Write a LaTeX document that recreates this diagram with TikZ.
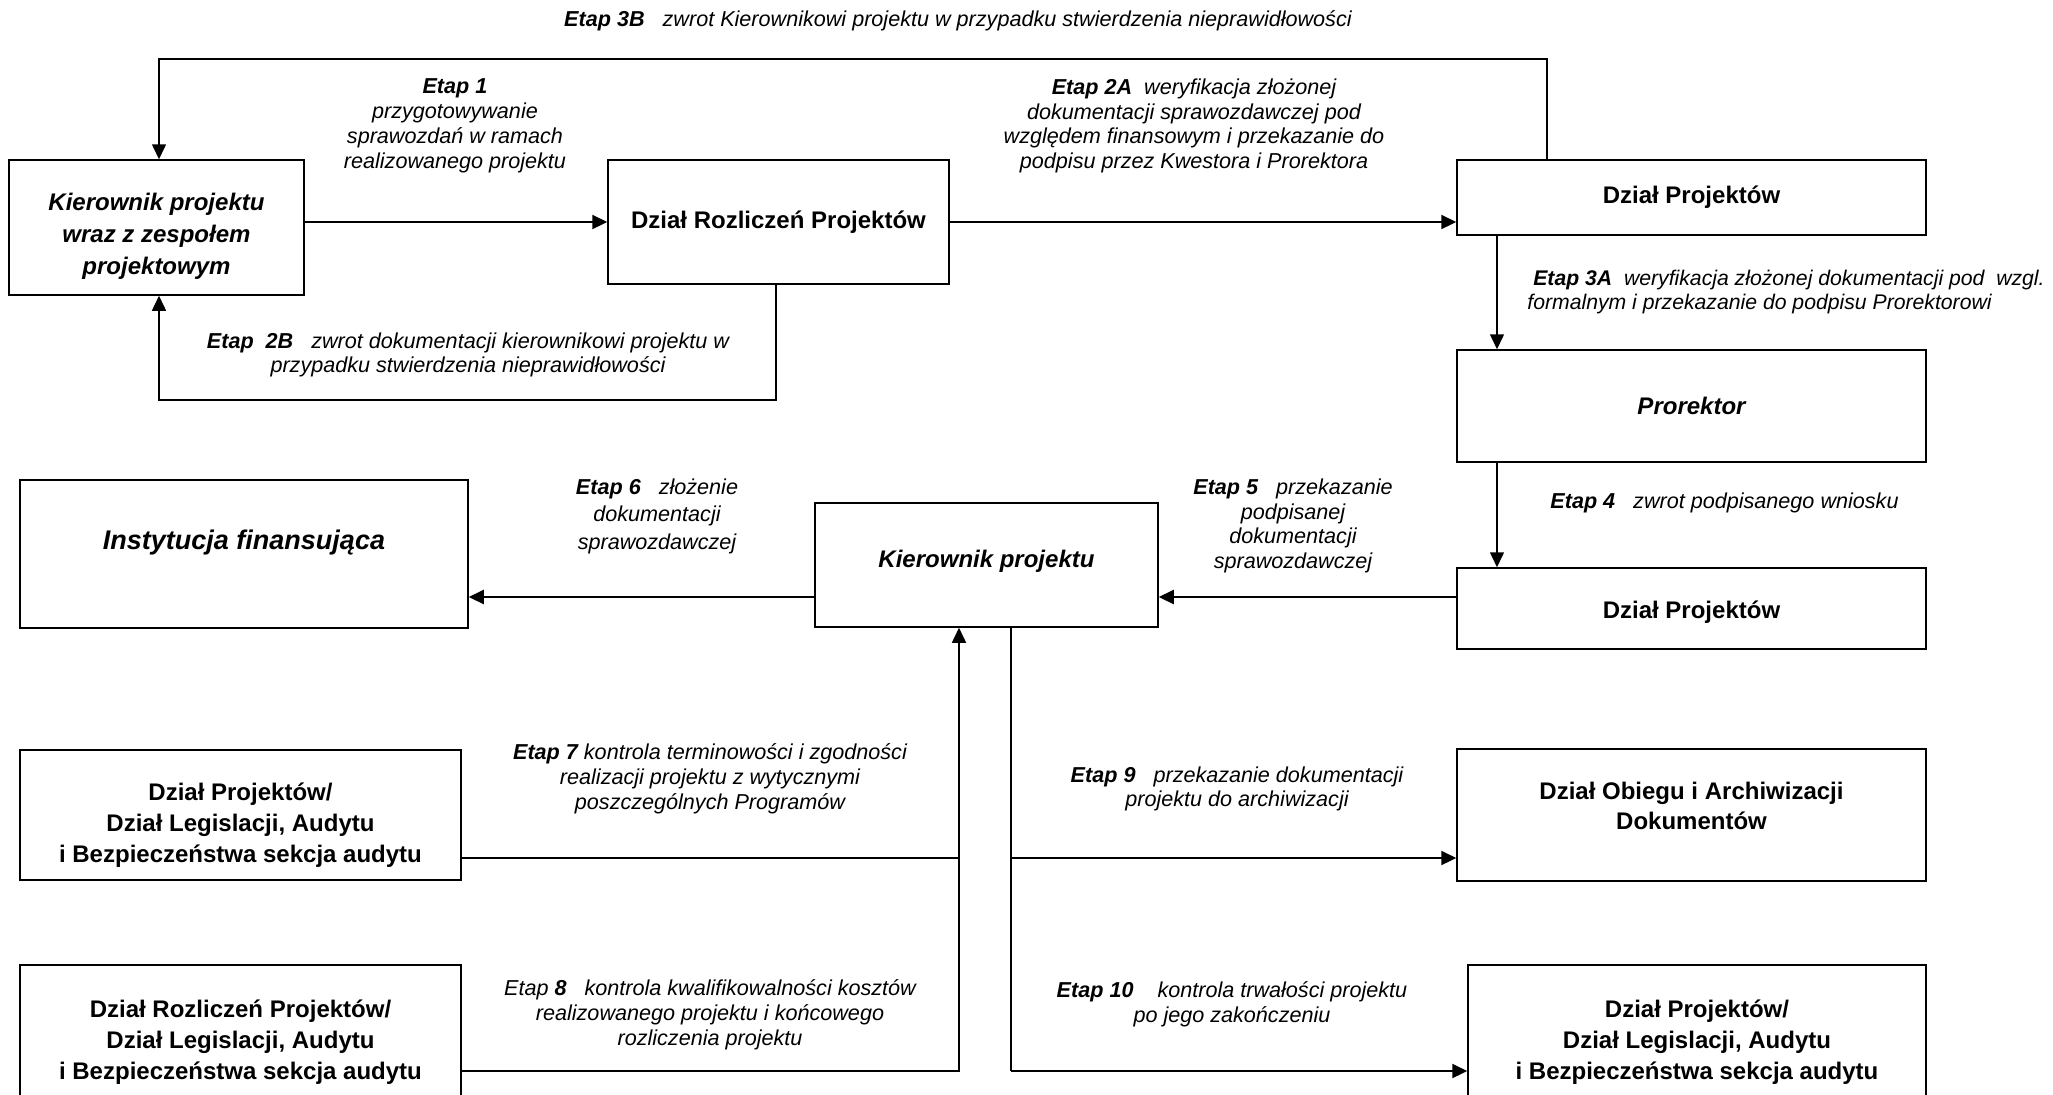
\documentclass[tikz,border=0pt]{standalone}
\usepackage{fontspec}
\setmainfont{Liberation Sans}
\usetikzlibrary{arrows.meta}

% invisible strut that lowers the text block inside a fixed-size box
\newcommand{\lowerby}[1]{\rule{0pt}{#1}}

\tikzset{
  box/.style={draw=black, line width=0.75pt, rectangle, align=center, inner sep=2pt,
    font=\fontsize{12}{15}\selectfont\bfseries},
  boxit/.style={box, font=\fontsize{12}{15}\selectfont\bfseries\itshape},
  etap/.style={align=center, inner sep=0pt, font=\fontsize{10.8}{12.4}\selectfont\itshape},
  flow/.style={line width=1.1pt, -{Triangle[length=7.5pt,width=7pt]}},
  link/.style={line width=0.75pt},
  linkarrow/.style={line width=0.75pt, -{Triangle[length=7.5pt,width=7pt]}},
}

\begin{document}
\begin{tikzpicture}[x=0.5pt, y=-0.5pt]
\useasboundingbox (0,0) rectangle (2053,1094);
\clip (0,0) rectangle (2053,1094);
\fill[white] (0,0) rectangle (2053,1094);

% --- boxes ---
\node[boxit, minimum width=147.5pt, minimum height=67.5pt, font=\fontsize{12}{15.8}\selectfont\bfseries\itshape]
  (k1) at (156.5,227.5) {\lowerby{17.5pt}Kierownik projektu\\wraz z zespołem\\projektowym};
\node[box, minimum width=170.5pt, minimum height=62pt] (drp) at (778.5,222) {Dział Rozliczeń Projektów};
\node[box, minimum width=234.5pt, minimum height=37.5pt] (dp1) at (1691.5,197.5) {Dział Projektów};
\node[boxit, minimum width=234.5pt, minimum height=56pt] (pror) at (1691.5,406) {Prorektor};
\node[box, minimum width=234.5pt, minimum height=40.5pt] (dp2) at (1691.5,608.5) {\lowerby{12pt}Dział Projektów};
\node[boxit, minimum width=171.5pt, minimum height=62pt, text depth=6pt] (k2) at (986.5,565) {Kierownik projektu};
\node[boxit, minimum width=224pt, minimum height=74pt, text depth=14pt,
  font=\fontsize{13.5}{16}\selectfont\bfseries\itshape] (inst) at (244,554) {Instytucja finansująca};
\node[box, minimum width=220.5pt, minimum height=65pt, font=\fontsize{12}{15.5}\selectfont\bfseries] (dpdl1) at (240.5,815)
  {\lowerby{19pt}Dział Projektów/\\Dział Legislacji, Audytu\\i Bezpieczeństwa sekcja audytu};
\node[box, minimum width=234.5pt, minimum height=66pt, text depth=9pt] (doad) at (1691.5,815)
  {Dział Obiegu i Archiwizacji\\Dokumentów};
\node[box, minimum width=220.5pt, minimum height=72pt, font=\fontsize{12}{15.5}\selectfont\bfseries] (drpdl2) at (240.5,1037)
  {\lowerby{13.5pt}Dział Rozliczeń Projektów/\\Dział Legislacji, Audytu\\i Bezpieczeństwa sekcja audytu};
\node[box, minimum width=229pt, minimum height=72pt, font=\fontsize{12}{15.5}\selectfont\bfseries] (dpdl2) at (1697,1037)
  {\lowerby{13.5pt}Dział Projektów/\\Dział Legislacji, Audytu\\i Bezpieczeństwa sekcja audytu};

% --- stage labels ---
\node[etap] (e3b) at (958,21) {\textbf{Etap 3B}\ \ \ zwrot Kierownikowi projektu w przypadku stwierdzenia nieprawidłowości};
\node[etap] (e1) at (455,126) {\textbf{Etap 1}\\przygotowywanie\\sprawozdań w ramach\\realizowanego projektu};
\node[etap] (e2a) at (1194,126) {\textbf{Etap 2A}\ \ weryfikacja złożonej\\dokumentacji sprawozdawczej pod\\względem finansowym i przekazanie do\\podpisu przez Kwestora i Prorektora};
\node[etap] (e2b) at (468,355) {\textbf{Etap\ \ 2B}\ \ \ zwrot dokumentacji kierownikowi projektu w\\przypadku stwierdzenia nieprawidłowości};
\node[etap, align=left, anchor=west, font=\fontsize{10.6}{12.4}\selectfont\itshape] (e3a) at (1527,292)
  {\ \textbf{Etap 3A}\ \ weryfikacja złożonej dokumentacji pod\ \ wzgl.\\formalnym i przekazanie do podpisu Prorektorowi};
\node[etap, anchor=west] (e4) at (1550,503) {\textbf{Etap 4}\ \ \ zwrot podpisanego wniosku};
\node[etap] (e5) at (1293,526) {\textbf{Etap 5}\ \ \ przekazanie\\podpisanej\\dokumentacji\\sprawozdawczej};
\node[etap, font=\fontsize{10.8}{13.75}\selectfont\itshape] (e6) at (657,516) {\textbf{Etap 6}\ \ \ złożenie\\dokumentacji\\sprawozdawczej};
\node[etap] (e7) at (710,779) {\textbf{Etap 7} kontrola terminowości i zgodności\\realizacji projektu z wytycznymi\\poszczególnych Programów};
\node[etap] (e8) at (710,1015) {Etap \textbf{8}\ \ \ kontrola kwalifikowalności kosztów\\realizowanego projektu i końcowego\\rozliczenia projektu};
\node[etap] (e9) at (1237,789) {\textbf{Etap 9}\ \ \ przekazanie dokumentacji\\projektu do archiwizacji};
\node[etap] (e10) at (1232,1004) {\textbf{Etap 10}\ \ \ \ kontrola trwałości projektu\\po jego zakończeniu};

% --- routing points ---
\coordinate (topR) at (1547,59);
\coordinate (topL) at (159,59);
\coordinate (botR) at (776,400);
\coordinate (botL) at (159,400);
\coordinate (midY) at (0,597);
\coordinate (upX) at (959,1071);
\coordinate (row7) at (959,858);
\coordinate (downX) at (1011,1071);
\coordinate (row9) at (1011,858);

% --- connectors ---
\draw[flow] (k1.east |- drp.west) -- (drp.west);
\draw[flow] (drp.east) -- (drp.east -| dp1.west);
\draw[linkarrow] (dp1.north -| topR) -- (topR) -- (topL) -- (topL |- k1.north);
\draw[linkarrow] (drp.south -| botR) -- (botR) -- (botL) -- (botL |- k1.south);
\draw[linkarrow] (dp1.south -| 1497,0) -- (pror.north -| 1497,0);
\draw[linkarrow] (pror.south -| 1497,0) -- (dp2.north -| 1497,0);
\draw[flow] (dp2.west |- midY) -- (k2.east |- midY);
\draw[flow] (k2.west |- midY) -- (inst.east |- midY);
\draw[link] (dpdl1.east |- row7) -- (row7);
\draw[linkarrow] (drpdl2.east |- upX) -- (upX) -- (upX |- k2.south);
\draw[link] (k2.south -| downX) -- (downX);
\draw[flow] (row9) -- (doad.west |- row9);
\draw[flow] (downX) -- (dpdl2.west |- downX);
\end{tikzpicture}
\end{document}
